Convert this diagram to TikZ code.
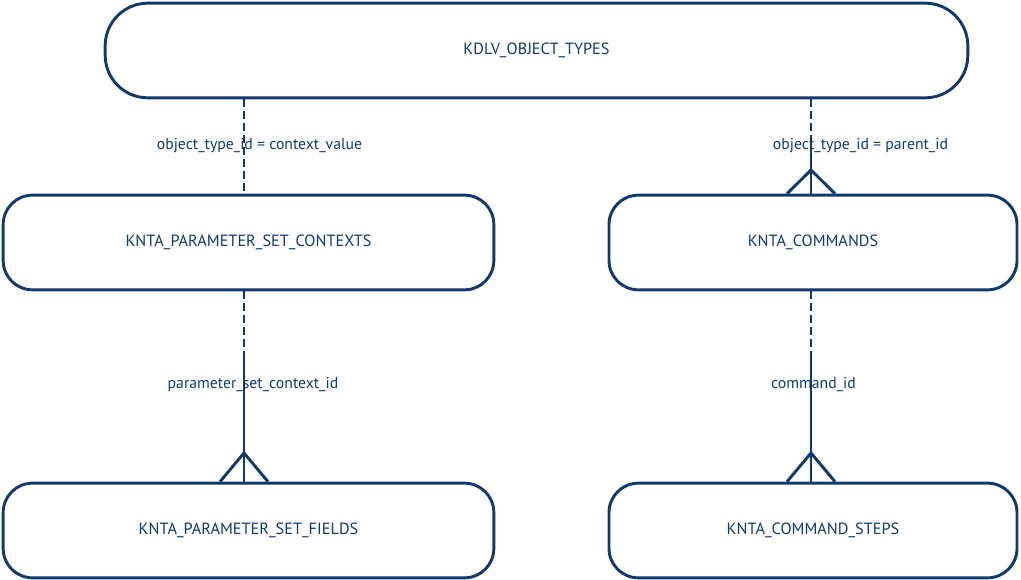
\documentclass[tikz,border=0pt]{standalone}
\usepackage{fontspec}
\setmainfont{PT Sans}
\usetikzlibrary{positioning}

\definecolor{erblue}{RGB}{16,58,107}

\tikzset{
  table/.style={draw=erblue, line width=2.2pt, rectangle, rounded corners=22pt,
    minimum height=71pt, text=erblue, font=\fontsize{12.2}{14}\selectfont, inner sep=0pt},
  keylink/.style={draw=erblue, line width=2.2pt, dash pattern=on 6pt off 3pt},
  fklink/.style={draw=erblue, line width=2.2pt},
  linklabel/.style={text=erblue, font=\fontsize{11.8}{14}\selectfont, inner sep=0pt}
}

\begin{document}
\begin{tikzpicture}[x=0.75pt,y=-0.75pt]
  \useasboundingbox (0,0) rectangle (1021,580);
  % tables
  \node[table, rounded corners=32pt, minimum width=647pt] (types) at (536.5,50.5) {KDLV\_OBJECT\_TYPES};
  \node[table, minimum width=368pt] (ctx) at (248.5,242.5) {KNTA\_PARAMETER\_SET\_CONTEXTS};
  \node[table, minimum width=306pt] (cmd) at (813,242.5) {KNTA\_COMMANDS};
  \node[table, minimum width=368pt] (fields) at (248.5,530.5) {KNTA\_PARAMETER\_SET\_FIELDS};
  \node[table, minimum width=306pt] (steps) at (813,530.5) {KNTA\_COMMAND\_STEPS};

  \coordinate (lx1) at (244,0);
  \coordinate (lx2) at (811,0);

  % labels
  \node[linklabel] (l1) at (259.5,146) {object\_type\_id = context\_value};
  \node[linklabel] (l2) at (860.5,146) {object\_type\_id = parent\_id};
  \node[linklabel] (l3) at (253,385) {parameter\_set\_context\_id};
  \node[linklabel] (l4) at (813.5,385) {command\_id};

  % types -> contexts
  \draw[keylink] (types.south -| lx1) -- (ctx.north -| lx1);

  % types -> commands
  \coordinate (m2) at (811,140);
  \coordinate (c2) at (811,170);
  \draw[keylink] (types.south -| lx2) -- (m2);
  \draw[fklink] (m2) -- (cmd.north -| lx2);
  \draw[fklink] ([xshift=-18pt]cmd.north -| lx2) -- (c2) -- ([xshift=18pt]cmd.north -| lx2);

  % contexts -> fields
  \coordinate (m3) at (244,356);
  \coordinate (c3) at (244,453);
  \draw[keylink] (ctx.south -| lx1) -- (m3);
  \draw[fklink] (m3) -- (fields.north -| lx1);
  \draw[fklink] ([xshift=-18pt]fields.north -| lx1) -- (c3) -- ([xshift=18pt]fields.north -| lx1);

  % commands -> steps
  \coordinate (m4) at (811,356);
  \coordinate (c4) at (811,453);
  \draw[keylink] (cmd.south -| lx2) -- (m4);
  \draw[fklink] (m4) -- (steps.north -| lx2);
  \draw[fklink] ([xshift=-18pt]steps.north -| lx2) -- (c4) -- ([xshift=18pt]steps.north -| lx2);
\end{tikzpicture}
\end{document}
